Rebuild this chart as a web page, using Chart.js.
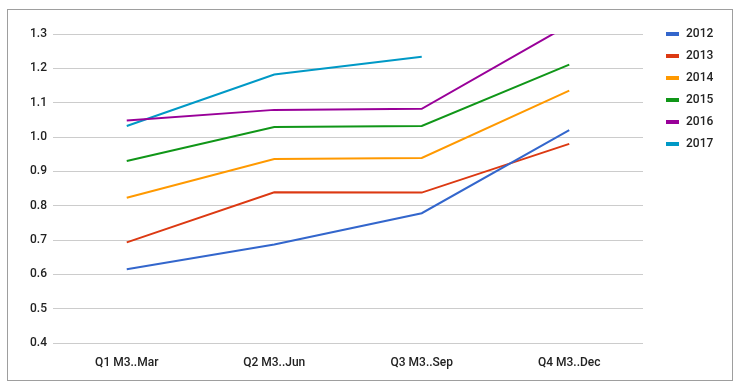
<!DOCTYPE html>
<html>
<head>
<meta charset="utf-8">
<script src="https://cdn.jsdelivr.net/npm/chart.js@4/dist/chart.umd.min.js"></script>
<style>
  html, body { margin: 0; padding: 0; background: #fff; }
  #frame { position: absolute; left: 7px; top: 9px; width: 724px; height: 370px; border: 1px solid #9e9e9e; }
  #chart { position: absolute; left: 0; top: 0; }
</style>
</head>
<body>
<div id="frame"></div>
<canvas id="chart" width="741" height="390"></canvas>
<script>
  "use strict";

  const quarters = ["Q1 M3..Mar", "Q2 M3..Jun", "Q3 M3..Sep", "Q4 M3..Dec"];
  const years = ["2012", "2013", "2014", "2015", "2016", "2017"];
  const y2012 = [0.615, 0.687, 0.778, 1.020];
  const y2013 = [0.693, 0.839, 0.838, 0.980];
  const y2014 = [0.823, 0.936, 0.939, 1.135];
  const y2015 = [0.930, 1.029, 1.032, 1.211];
  const y2016 = [1.048, 1.079, 1.082, 1.327];
  const y2017 = [1.032, 1.182, 1.234, null];
  const colors = ["#3366cc", "#dc3912", "#ff9900", "#109618", "#990099", "#0099c6"];

  const series = [y2012, y2013, y2014, y2015, y2016, y2017];

  // legend drawn by hand so it sits where the original one is
  const sideLegend = {
    id: "sideLegend",
    afterDraw(chart) {
      const c = chart.ctx;
      c.save();
      c.font = "500 12px Roboto";
      c.textBaseline = "middle";
      chart.data.datasets.forEach((ds, i) => {
        const y = 34 + i * 22;
        c.fillStyle = ds.borderColor;
        c.fillRect(666, y - 2, 13, 4);
        c.fillStyle = "#222";
        c.fillText(ds.label, 686, y);
      });
      c.restore();
    }
  };

  new Chart(document.getElementById("chart"), {
    type: "line",
    data: {
      labels: quarters,
      datasets: series.map((vals, i) => ({
        label: years[i],
        data: vals,
        borderColor: colors[i],
        backgroundColor: colors[i],
        borderWidth: 2,
        pointRadius: 0,
        tension: 0,
        spanGaps: false
      }))
    },
    options: {
      responsive: false,
      animation: false,
      layout: { padding: { left: 0, top: 34, right: 98, bottom: 0 } },
      plugins: { legend: { display: false }, tooltip: { enabled: false } },
      scales: {
        x: {
          offset: true,
          grid: { display: false },
          border: { display: false },
          ticks: { font: { family: "Roboto", size: 12, weight: "500" }, color: "#222", padding: 5, maxRotation: 0 },
          afterFit(scale) { scale.height = 47; }
        },
        y: {
          min: 0.4,
          max: 1.3,
          grid: { color: "#cccccc", drawTicks: false },
          border: { display: false },
          ticks: {
            stepSize: 0.1,
            padding: 6,
            font: { family: "Roboto", size: 12, weight: "500" },
            color: "#222",
            callback: v => v.toFixed(1)
          },
          afterFit(scale) { scale.width = 53; }
        }
      }
    },
    plugins: [sideLegend]
  });
</script>
</body>
</html>
